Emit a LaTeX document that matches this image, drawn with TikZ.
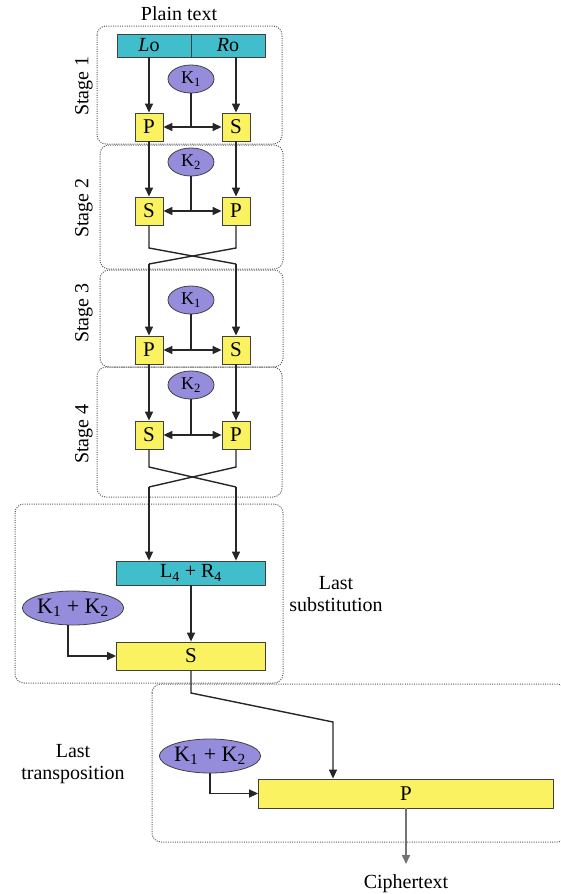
\documentclass[tikz,border=0pt]{standalone}
\usepackage{fontspec}
\setmainfont{Liberation Serif}
\usetikzlibrary{arrows.meta,shapes.geometric}
\definecolor{barcyan}{RGB}{64,190,204}
\definecolor{boxyellow}{RGB}{250,242,96}
\definecolor{keypurple}{RGB}{150,140,220}
\tikzset{
 txt/.style={font=\fontsize{20}{22}\selectfont, inner sep=0pt},
 bar/.style={draw=black!75, fill=barcyan, line width=0.8pt, minimum height=23pt, inner sep=0pt, font=\fontsize{20}{22}\selectfont},
 sbox/.style={draw=black!75, fill=boxyellow, line width=0.8pt, minimum width=28pt, minimum height=28pt, inner sep=0pt, font=\fontsize{21}{23}\selectfont},
 wbox/.style={draw=black!75, fill=boxyellow, line width=0.8pt, minimum height=28pt, inner sep=0pt, font=\fontsize{21}{23}\selectfont},
 key/.style={ellipse, draw=black!75, fill=keypurple, line width=0.8pt, minimum width=46pt, minimum height=28pt, inner sep=0pt, font=\fontsize{18}{20}\selectfont},
 bigkey/.style={key, minimum width=99pt, minimum height=34pt, font=\fontsize{22}{24}\selectfont},
 stagebox/.style={draw=black!65, dash pattern=on 1pt off 1.3pt, line width=1pt, rounded corners=9pt},
 conn/.style={draw=black!85, line width=1.4pt},
 arr/.style={conn, -{Triangle[length=9pt,width=8pt]}},
 darr/.style={conn, {Triangle[length=9pt,width=8pt]}-{Triangle[length=9pt,width=8pt]}},
 garr/.style={draw=black!55, line width=1.6pt, -{Triangle[length=9pt,width=8pt]}},
 stagelbl/.style={txt, rotate=90},
}
\begin{document}
\begin{tikzpicture}[x=1pt,y=-1pt]
\useasboundingbox (0,0) rectangle (561,894);
% dotted frames
\draw[stagebox] (97,26) rectangle (282,144);
\draw[stagebox] (100,145) rectangle (283,269);
\draw[stagebox] (100,270) rectangle (283,367);
\draw[stagebox] (97,367) rectangle (282,497);
\draw[stagebox] (15,504) rectangle (283,683);
\draw[stagebox] (152,684) rectangle (566,842);
% labels
\node[txt] (plain) at (179,14) {Plain text};
\node[stagelbl] (st1) at (84,86) {Stage 1};
\node[stagelbl] (st2) at (84,208) {Stage 2};
\node[stagelbl] (st3) at (84,313) {Stage 3};
\node[stagelbl] (st4) at (84,434) {Stage 4};
\node[txt, align=center] (lastsub) at (336,594) {Last\\substitution};
\node[txt, align=center] (lasttr) at (73,764) {Last\\transposition};
\node[txt] (cipher) at (406,884) {Ciphertext};
% stage 1
\node[bar, minimum width=148pt] (top) at (191,45.5) {};
\draw[draw=black!75, line width=0.8pt] (top.north) -- (top.south);
\node[txt] (lo) at (149,45.5) {\textit{L}o};
\node[txt] (ro) at (228,45.5) {\textit{R}o};
\node[key] (k1) at (191,79) {K\textsubscript{1}};
\node[sbox] (p1) at (149,127) {P};
\node[sbox] (s1) at (236,127) {S};
\draw[arr] (top.south -| p1) -- (p1);
\draw[arr] (top.south -| s1) -- (s1);
\draw[darr] (p1) -- (s1);
\draw[conn] (k1) -- (k1 |- p1);
% stage 2
\node[key] (k2) at (191,162) {K\textsubscript{2}};
\node[sbox] (s2) at (149,211) {S};
\node[sbox] (p2) at (236,211) {P};
\draw[arr] (p1) -- (s2);
\draw[arr] (s1) -- (p2);
\draw[darr] (s2) -- (p2);
\draw[conn] (k2) -- (k2 |- s2);
\coordinate (x2l) at (149,248);
\coordinate (x2r) at (236,248);
\coordinate (y2l) at (149,264);
\coordinate (y2r) at (236,264);
\draw[conn] (s2.south) -- (x2l) -- (y2r);
\draw[conn] (p2.south) -- (x2r) -- (y2l);
% stage 3
\node[key] (k3) at (191,300) {K\textsubscript{1}};
\node[sbox] (p3) at (149,350) {P};
\node[sbox] (s3) at (236,350) {S};
\draw[arr] (y2l) -- (p3);
\draw[arr] (y2r) -- (s3);
\draw[darr] (p3) -- (s3);
\draw[conn] (k3) -- (k3 |- p3);
% stage 4
\node[key] (k4) at (191,385) {K\textsubscript{2}};
\node[sbox] (s4) at (149,435) {S};
\node[sbox] (p4) at (236,435) {P};
\draw[arr] (p3) -- (s4);
\draw[arr] (s3) -- (p4);
\draw[darr] (s4) -- (p4);
\draw[conn] (k4) -- (k4 |- s4);
\coordinate (x4l) at (149,467);
\coordinate (x4r) at (236,467);
\coordinate (y4l) at (149,487);
\coordinate (y4r) at (236,487);
\draw[conn] (s4.south) -- (x4l) -- (y4r);
\draw[conn] (p4.south) -- (x4r) -- (y4l);
% last substitution
\node[bar, minimum width=149pt, minimum height=24pt] (l4) at (191,573) {L\textsubscript{4} + R\textsubscript{4}};
\draw[arr] (y4l) -- (l4.north -| y4l);
\draw[arr] (y4r) -- (l4.north -| y4r);
\node[bigkey] (kk1) at (73,608) {K\textsubscript{1} + K\textsubscript{2}};
\node[wbox, minimum width=149pt] (s5) at (191,656) {S};
\draw[arr] (l4) -- (s5);
\draw[arr] ([xshift=-5pt]kk1.south) |- (s5.west);
% last transposition
\node[bigkey] (kk2) at (210,756) {K\textsubscript{1} + K\textsubscript{2}};
\node[wbox, minimum width=295pt, minimum height=29pt] (p6) at (406,793.5) {P};
\coordinate (t1) at (191,693);
\coordinate (t2) at (333,722);
\draw[arr] (s5.south) -- (t1) -- (t2) -- (t2 |- p6.north);
\draw[arr] (kk2.south) |- (p6.west);
\coordinate (ctip) at (406,864);
\draw[garr] (p6.south) -- (ctip);
\end{tikzpicture}
\end{document}
